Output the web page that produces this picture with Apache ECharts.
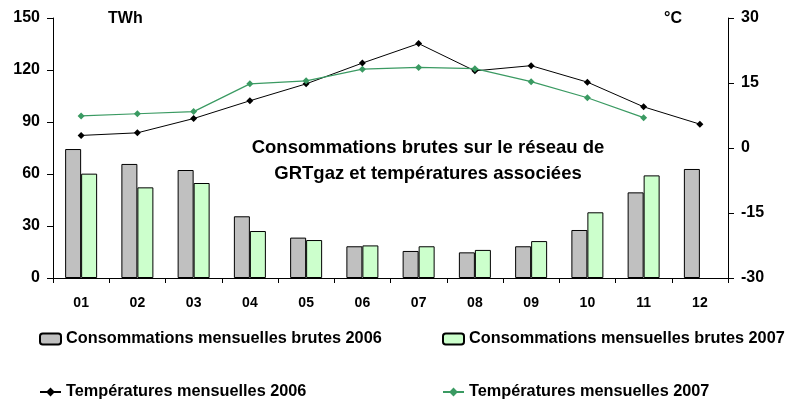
<!DOCTYPE html>
<html>
<head>
<meta charset="utf-8">
<script src="https://cdn.jsdelivr.net/npm/echarts@6/dist/echarts.min.js"></script>
<style>
  html, body { margin: 0; padding: 0; background: #fff; }
  #chart { width: 791px; height: 400px; }
</style>
</head>
<body>
<div id="chart"></div>
<script>
const months = ["01", "02", "03", "04", "05", "06", "07", "08", "09", "10", "11", "12"];
const conso2006 = [74.4, 65.8, 62.3, 35.6, 23.3, 18.3, 15.6, 14.8, 18.3, 27.7, 49.4, 62.9];
const conso2007 = [60.2, 52.3, 54.8, 27.1, 21.9, 18.8, 18.3, 16.2, 21.3, 37.9, 59.2, null];
const temp2006 = [2.9, 3.5, 6.8, 10.9, 14.8, 19.6, 24.1, 17.8, 19.0, 15.2, 9.5, 5.5];
const temp2007 = [7.4, 7.9, 8.4, 14.8, 15.5, 18.2, 18.6, 18.3, 15.3, 11.6, 7.0, null];

const FONT = 'Arial, "Liberation Sans", sans-serif';
const names = [
  "Consommations mensuelles brutes 2006",
  "Consommations mensuelles brutes 2007",
  "Températures mensuelles 2006",
  "Températures mensuelles 2007"
];
const legendText = { fontFamily: FONT, fontWeight: "bold", fontSize: 16.3, color: "#000" };

let chart = echarts.init(document.getElementById("chart"));
chart.setOption({
  backgroundColor: "#fff",
  animation: false,
  textStyle: { fontFamily: FONT },
  title: [
    {
      text: "Consommations brutes sur le réseau de\nGRTgaz et températures associées",
      left: 428,
      top: 135,
      padding: 0,
      textAlign: "center",
      textStyle: { fontFamily: FONT, fontWeight: "bold", fontSize: 18.5, lineHeight: 26, color: "#000" }
    },
    {
      text: "TWh",
      left: 108,
      top: 11,
      padding: 0,
      textStyle: { fontFamily: FONT, fontWeight: "bold", fontSize: 16, color: "#000" }
    },
    {
      text: "°C",
      left: 664,
      top: 11,
      padding: 0,
      textStyle: { fontFamily: FONT, fontWeight: "bold", fontSize: 16, color: "#000" }
    }
  ],
  grid: { left: 53, right: 63, top: 18, bottom: 122 },
  legend: [
    { data: [names[0]], left: 39, top: 331, padding: 0, itemWidth: 21, itemHeight: 11, textStyle: legendText },
    { data: [names[1]], left: 442, top: 331, padding: 0, itemWidth: 21, itemHeight: 11, textStyle: legendText },
    { data: [names[2]], left: 39, top: 384, padding: 0, itemWidth: 21, itemHeight: 11, textStyle: legendText },
    { data: [names[3]], left: 442, top: 384, padding: 0, itemWidth: 21, itemHeight: 11, textStyle: legendText }
  ],
  xAxis: {
    type: "category",
    data: months,
    boundaryGap: true,
    axisLine: { lineStyle: { color: "#000", width: 1 } },
    axisTick: { show: true, length: 5, lineStyle: { color: "#000" } },
    axisLabel: { margin: 18, fontFamily: FONT, fontWeight: "bold", fontSize: 14, color: "#000" },
    splitLine: { show: false }
  },
  yAxis: [
    {
      type: "value",
      min: 0,
      max: 150,
      interval: 30,
      axisLine: { show: true, lineStyle: { color: "#000", width: 1 } },
      axisTick: { show: true, length: 6, lineStyle: { color: "#000" } },
      axisLabel: { margin: 13, fontFamily: FONT, fontWeight: "bold", fontSize: 16, color: "#000" },
      splitLine: { show: false }
    },
    {
      type: "value",
      min: -30,
      max: 30,
      interval: 15,
      position: "right",
      axisLine: { show: true, lineStyle: { color: "#000", width: 1 } },
      axisTick: { show: true, length: 6, lineStyle: { color: "#000" } },
      axisLabel: { margin: 13, fontFamily: FONT, fontWeight: "bold", fontSize: 16, color: "#000" },
      splitLine: { show: false }
    }
  ],
  series: [
    {
      name: names[0],
      type: "bar",
      data: conso2006,
      barWidth: 16,
      barGap: "0%",
      itemStyle: { color: "#c0c0c0", borderColor: "#000", borderWidth: 1 }
    },
    {
      name: names[1],
      type: "bar",
      data: conso2007,
      barWidth: 16,
      barGap: "0%",
      itemStyle: { color: "#ccffcc", borderColor: "#000", borderWidth: 1 }
    },
    {
      name: names[2],
      type: "line",
      yAxisIndex: 1,
      data: temp2006,
      symbol: "diamond",
      symbolSize: 7,
      lineStyle: { color: "#000", width: 1 },
      itemStyle: { color: "#000" }
    },
    {
      name: names[3],
      type: "line",
      yAxisIndex: 1,
      data: temp2007,
      symbol: "diamond",
      symbolSize: 7,
      lineStyle: { color: "#3a9a62", width: 1.2 },
      itemStyle: { color: "#3a9a62" }
    }
  ]
});
</script>
</body>
</html>
